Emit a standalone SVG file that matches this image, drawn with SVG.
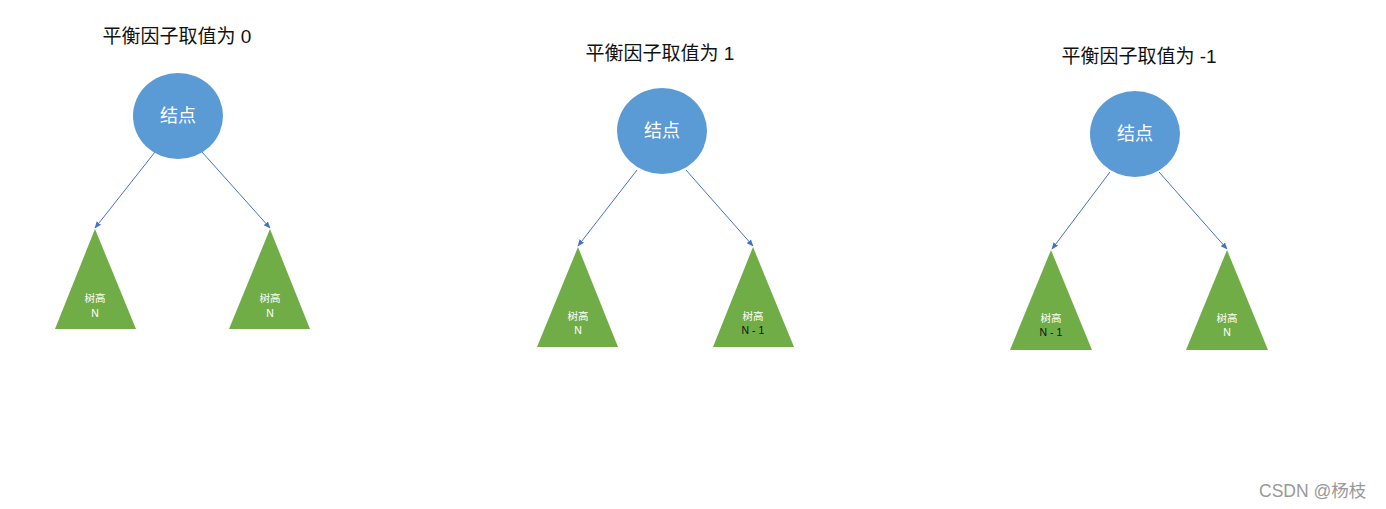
<svg xmlns="http://www.w3.org/2000/svg" width="1386" height="509" viewBox="0 0 1386 509">
<style>
.title{font-family:"Liberation Sans","Noto Sans CJK SC",sans-serif;font-size:19px;fill:#111;text-anchor:middle}
.node{fill:#5B9BD5}
.nlabel{font-family:"Liberation Sans","Noto Sans CJK SC",sans-serif;font-size:18px;fill:#fff;text-anchor:middle}
.tri{fill:#70AD47}
.tl{font-family:"Liberation Sans","Noto Sans CJK SC",sans-serif;font-size:10.5px;fill:#fff;text-anchor:middle}
.td{font-family:"Liberation Sans","Noto Sans CJK SC",sans-serif;font-size:10.5px;fill:#111;text-anchor:middle}
.edge{stroke:#4472C4;stroke-width:1;fill:none;marker-end:url(#arr)}
.wm{font-family:"Liberation Sans","Noto Sans CJK SC",sans-serif;font-size:17.5px;fill:#999}
</style>
<defs>
<marker id="arr" viewBox="0 0 10 10" refX="9" refY="5" markerWidth="7" markerHeight="7" orient="auto" markerUnits="userSpaceOnUse">
<path d="M0,1 L10,5 L0,9 z" fill="#4472C4"/>
</marker>
</defs>
<rect width="1386" height="509" fill="#fff"/>
<text class="title" x="177" y="43">平衡因子取值为 0</text>
<text class="title" x="660" y="60">平衡因子取值为 1</text>
<text class="title" x="1139" y="63">平衡因子取值为 -1</text>
<g id="connectors">
<line class="edge" x1="155" y1="152" x2="95" y2="228"/>
<line class="edge" x1="202" y1="152" x2="270" y2="228"/>
<line class="edge" x1="637" y1="170" x2="578" y2="246"/>
<line class="edge" x1="686" y1="170" x2="753" y2="246"/>
<line class="edge" x1="1110" y1="172" x2="1052" y2="249"/>
<line class="edge" x1="1159" y1="172" x2="1227" y2="249"/>
</g>
<g id="node1"><ellipse class="node" cx="178" cy="116" rx="45" ry="43"/><text class="nlabel" x="178" y="122">结点</text></g>
<g id="node2"><ellipse class="node" cx="662" cy="131" rx="45" ry="43"/><text class="nlabel" x="662" y="137">结点</text></g>
<g id="node3"><ellipse class="node" cx="1135" cy="134" rx="45" ry="43"/><text class="nlabel" x="1135" y="140">结点</text></g>
<g id="t1l"><polygon class="tri" points="95,229 136,329 55,329"/><text class="tl" x="95" y="302">树高</text><text class="tl" x="95" y="317">N</text></g>
<g id="t1r"><polygon class="tri" points="270,229 310,329 229,329"/><text class="tl" x="270" y="302">树高</text><text class="tl" x="270" y="317">N</text></g>
<g id="t2l"><polygon class="tri" points="578,247 618,347 537,347"/><text class="tl" x="578" y="320">树高</text><text class="tl" x="578" y="334">N</text></g>
<g id="t2r"><polygon class="tri" points="753,247 794,347 713,347"/><text class="tl" x="753" y="320">树高</text><text class="td" x="753" y="334">N - 1</text></g>
<g id="t3l"><polygon class="tri" points="1051,250 1092,350 1010,350"/><text class="tl" x="1051" y="322">树高</text><text class="td" x="1051" y="336">N - 1</text></g>
<g id="t3r"><polygon class="tri" points="1227,250 1268,350 1186,350"/><text class="tl" x="1227" y="322">树高</text><text class="tl" x="1227" y="336">N</text></g>
<text class="wm" x="1259" y="497">CSDN @杨枝</text>
</svg>
